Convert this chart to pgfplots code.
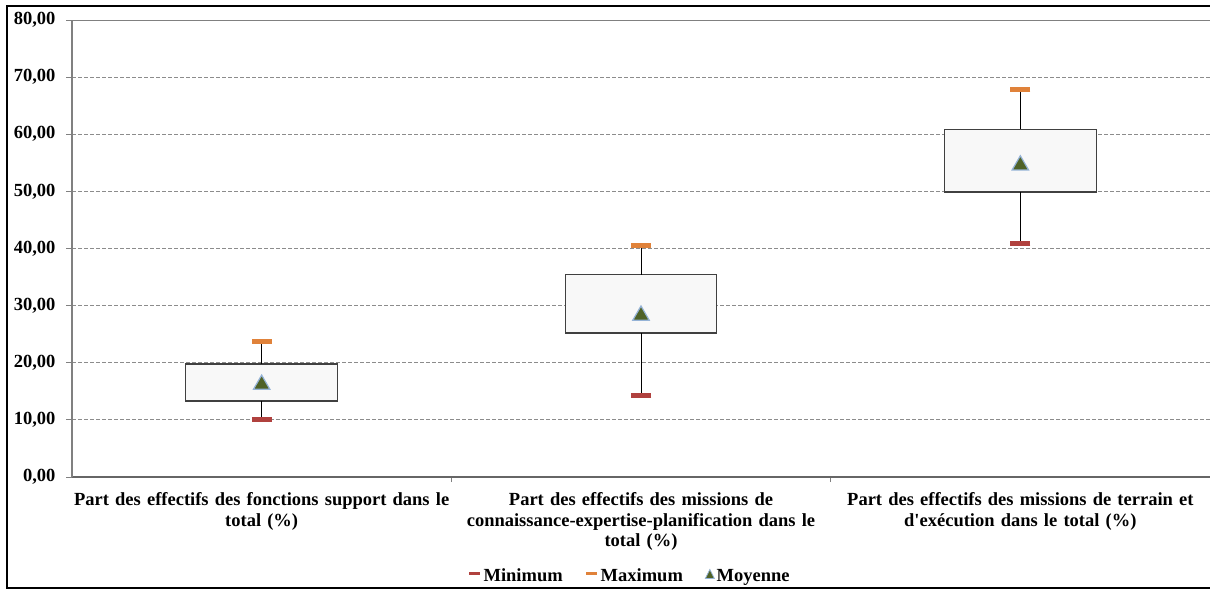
\documentclass[border=0pt]{standalone}
\usepackage{pgfplots}
\pgfplotsset{compat=1.18}
\usepackage{fontspec}
\setmainfont{Liberation Serif}
\definecolor{minred}{HTML}{B0413E}
\definecolor{maxorange}{HTML}{E0823A}
\definecolor{meangreen}{HTML}{4F6228}
\definecolor{meanedge}{HTML}{95B3D7}
\definecolor{boxfill}{HTML}{F8F8F8}
\definecolor{boxedge}{HTML}{404040}
\definecolor{gridgray}{HTML}{8C8C8C}
\definecolor{axisgray}{HTML}{808080}
\newcommand{\lblfont}{\bfseries\fontsize{18.5}{20.7}\selectfont}

\begin{document}
\begin{tikzpicture}
\useasboundingbox (0pt,0pt) rectangle (1210pt,-590pt);
\draw[black, line width=1.6pt] (1220pt,-6pt) -- (7pt,-6pt) -- (7pt,-588pt) -- (1220pt,-588pt);
\begin{axis}[
  at={(72pt,-477pt)}, anchor=south west,
  scale only axis, width=1138pt, height=457pt,
  xmin=-0.5, xmax=2.5, ymin=0, ymax=80,
  axis x line*=bottom, axis y line*=left,
  x axis line style={draw=axisgray!80!black, line width=1.6pt},
  y axis line style={draw=axisgray, line width=1.2pt},
  ytick={0,10,20,30,40,50,60,70,80},
  xtick={0,1,2},
  minor xtick={0.5,1.5},
  tick align=outside,
  major x tick style={draw=none},
  minor x tick style={draw=axisgray, line width=1pt},
  minor tick length=5pt,
  major tick length=6pt,
  y tick style={draw=axisgray, line width=1pt},
  ymajorgrids,
  major grid style={draw=gridgray, dash pattern=on 4pt off 2pt, line width=0.9pt},
  xticklabels={{Part des effectifs des fonctions support dans le\\total (\%)},
               {Part des effectifs des missions de\\connaissance-expertise-planification dans le\\total (\%)},
               {Part des effectifs des missions de terrain et\\d\textquotesingle exécution dans le total (\%)}},
  xticklabel style={font=\lblfont, align=center, text width=378pt, anchor=north, yshift=-6pt},
  yticklabel style={font=\lblfont, anchor=east, xshift=-7pt},
  /pgf/number format/assume math mode=true,
  y tick label style={/pgf/number format/.cd, fixed, fixed zerofill, precision=2, use comma},
  legend style={at={(0.49,-0.2166)}, anchor=center, legend columns=3, draw=none, fill=none,
    font=\lblfont, /tikz/every even column/.append style={column sep=20pt}},
]
% boxes (lower quartile to upper quartile)
\addplot[forget plot, draw=boxedge, fill=boxfill, line width=1.2pt] coordinates {(-0.2,13.3) (0.2,13.3) (0.2,19.8) (-0.2,19.8)} -- cycle;
\addplot[forget plot, draw=boxedge, fill=boxfill, line width=1.2pt] coordinates {(0.8,25.2) (1.2,25.2) (1.2,35.4) (0.8,35.4)} -- cycle;
\addplot[forget plot, draw=boxedge, fill=boxfill, line width=1.2pt] coordinates {(1.8,49.9) (2.2,49.9) (2.2,60.9) (1.8,60.9)} -- cycle;
% whiskers
\addplot[forget plot, black, line width=1pt] coordinates {(0,10.0) (0,13.3)};
\addplot[forget plot, black, line width=1pt] coordinates {(0,19.8) (0,23.8)};
\addplot[forget plot, black, line width=1pt] coordinates {(1,14.2) (1,25.2)};
\addplot[forget plot, black, line width=1pt] coordinates {(1,35.4) (1,40.5)};
\addplot[forget plot, black, line width=1pt] coordinates {(2,40.8) (2,49.9)};
\addplot[forget plot, black, line width=1pt] coordinates {(2,60.9) (2,67.8)};
% markers
\addplot[only marks, mark=-, mark size=10pt, mark options={draw=minred, line width=5pt},
  legend image code/.code={\draw[minred, line width=3pt] (0pt,2pt) -- (11pt,2pt);}]
  coordinates {(0,10.0) (1,14.2) (2,40.8)};
\addlegendentry{Minimum}
\addplot[only marks, mark=-, mark size=10pt, mark options={draw=maxorange, line width=5pt},
  legend image code/.code={\draw[maxorange, line width=3pt] (0pt,2pt) -- (11pt,2pt);}]
  coordinates {(0,23.8) (1,40.5) (2,67.8)};
\addlegendentry{Maximum}
\addplot[only marks, mark=triangle*, mark size=9.5pt, mark options={draw=meanedge, fill=meangreen, line width=1.2pt, yshift=-2.4pt},
  legend image code/.code={\draw[meanedge, fill=meangreen, line width=0.8pt] (0pt,-2.5pt) -- (9pt,-2.5pt) -- (4.5pt,6.5pt) -- cycle;}]
  coordinates {(0,16.6) (1,28.7) (2,55.0)};
\addlegendentry{Moyenne}
\draw[draw=axisgray, line width=1.4pt] (rel axis cs:0,1) -- (rel axis cs:1,1);
\end{axis}
\end{tikzpicture}
\end{document}
